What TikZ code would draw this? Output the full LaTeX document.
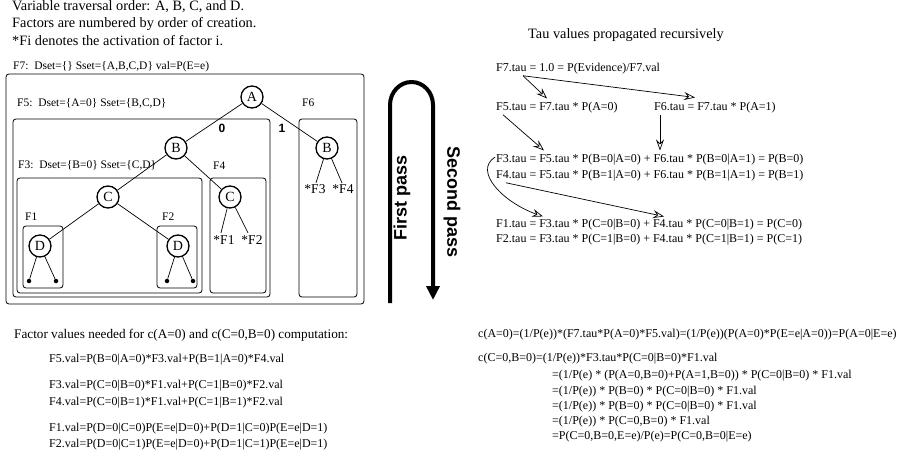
\documentclass[tikz,border=0pt]{standalone}
\usepackage{fontspec}
\setmainfont{Liberation Serif}
\setsansfont{Liberation Sans}
\usetikzlibrary{arrows.meta, math}

\tikzset{
  var/.style={circle,draw,line width=1.3pt,minimum size=22pt,inner sep=0pt,font=\fontsize{14}{14}\selectfont},
  fbox/.style={draw,line width=0.8pt,rounded corners=3pt},
  edge/.style={line width=0.7pt},
  leafdot/.style={circle,fill,inner sep=0pt,minimum size=4.5pt},
  flabel/.style={anchor=base west,inner sep=0pt,font=\fontsize{11.5}{12}\selectfont},
  leaf/.style={anchor=base,inner sep=0pt,font=\fontsize{13.5}{14}\selectfont},
  bit/.style={inner sep=0pt,font=\sffamily\bfseries\fontsize{12}{12}\selectfont},
  eqn/.style={anchor=base west,inner sep=0pt,font=\fontsize{12}{12}\selectfont},
  head/.style={anchor=base west,inner sep=0pt,font=\fontsize{14.3}{15}\selectfont},
  taupath/.style={line width=0.7pt,-{Stealth[open,length=11pt,width=8pt,inset=4pt]}},
  pass/.style={inner sep=0pt,font=\sffamily\bfseries\fontsize{18}{18}\selectfont},
}

\begin{document}
\begin{tikzpicture}[x=1pt,y=-1pt]
\tikzmath{
\xl=390;
\xr=433;
\ytop=105;
}
\useasboundingbox (0,0) rectangle (913,457);

%notes
\node[head] (note1) at (12,10.5) {Variable traversal order: A, B, C, and D.};
\node[head] (note2) at (12,28) {Factors are numbered by order of creation.};
\node[head] (note3) at (12,46) {*Fi denotes the activation of factor i.};

%factor boxes
\node[flabel] (lF7) at (13,70) {F7:\, Dset=\{\} Sset=\{A,B,C,D\} val=P(E=e)};
\draw[fbox] (6,74) rectangle (364,304);
\node[flabel] (lF5) at (17,107) {F5:\, Dset=\{A=0\} Sset=\{B,C,D\}};
\draw[fbox] (13,119) rectangle (270,297);
\node[flabel] (lF6) at (302,107) {F6};
\draw[fbox] (299,119) rectangle (357,297);
\node[flabel] (lF3) at (18,169) {F3:\, Dset=\{B=0\} Sset=\{C,D\}};
\draw[fbox] (17,178) rectangle (202,293);
\node[flabel] (lF4) at (213,170) {F4};
\draw[fbox] (210,178) rectangle (266,293);
\node[flabel] (lF1) at (25,221) {F1};
\draw[fbox] (23,226) rectangle (63,288);
\node[flabel] (lF2) at (162,221) {F2};
\draw[fbox] (157,226) rectangle (197,288);

%variables
\node[var] (A) at (252,97) {A};
\node[var] (B0) at (176,148) {B};
\node[var] (B1) at (327,148) {B};
\node[var] (C0) at (108,197) {C};
\node[var] (C1) at (230,197) {C};
\node[var] (D0) at (40,246) {D};
\node[var] (D1) at (178,246) {D};
\foreach \x/\n in {29/a,56/b,167/c,193/d}{
  \node[leafdot] (leaf\n) at (\x,281) {};
}
\node[leaf] (sF1) at (224,244) {*F1};
\node[leaf] (sF2) at (252,244) {*F2};
\node[leaf] (sF3) at (315,194) {*F3};
\node[leaf] (sF4) at (343,194) {*F4};

%edges
\draw[edge] (A) -- (B0);
\draw[edge] (A) -- (B1);
\node[bit] (bit0) at (222,128) {0};
\node[bit] (bit1) at (282,128) {1};
\draw[edge] (B0) -- (C0);
\draw[edge] (B0) -- (C1);
\draw[edge] (C0) -- (D0);
\draw[edge] (C0) -- (D1);
\draw[edge] (D0) -- (leafa);
\draw[edge] (D0) -- (leafb);
\draw[edge] (D1) -- (leafc);
\draw[edge] (D1) -- (leafd);
\draw[edge] (C1) -- ([xshift=-3pt,yshift=2pt]sF1.north);
\draw[edge] (C1) -- ([xshift=-4pt,yshift=2pt]sF2.north);
\draw[edge] (B1) -- ([xshift=1pt,yshift=2pt]sF3.north);
\draw[edge] (B1) -- ([xshift=-1pt,yshift=2pt]sF4.north);

%passes
\draw[line width=4pt,-{Triangle[length=14pt,width=13pt]}] (\xl,303) -- (\xl,\ytop)
  arc[start angle=180,end angle=360,x radius=21.5,y radius=23] -- (\xr,300);
\node[pass,rotate=90] (first) at (402,198) {First pass};
\node[pass,rotate=-90] (second) at (452,202) {Second pass};

%tau values
\node[head] (tauhead) at (528,39) {Tau values propagated recursively};
\node[eqn] (t7) at (496,72) {F7.tau = 1.0 = P(Evidence)/F7.val};
\node[eqn] (t5) at (496,111) {F5.tau = F7.tau * P(A=0)};
\node[eqn] (t6) at (654,111) {F6.tau = F7.tau * P(A=1)};
\node[eqn] (t3) at (496,163) {F3.tau = F5.tau * P(B=0|A=0) + F6.tau * P(B=0|A=1) = P(B=0)};
\node[eqn] (t4) at (496,179) {F4.tau = F5.tau * P(B=1|A=0) + F6.tau * P(B=1|A=1) = P(B=1)};
\node[eqn] (t1) at (496,228) {F1.tau = F3.tau * P(C=0|B=0) + F4.tau * P(C=0|B=1) = P(C=0)};
\node[eqn] (t2) at (496,243) {F2.tau = F3.tau * P(C=1|B=0) + F4.tau * P(C=1|B=1) = P(C=1)};
\draw[taupath] ([xshift=27pt,yshift=-1pt]t7.south west) -- ([xshift=51pt,yshift=4pt]t5.north west);
\draw[taupath] ([xshift=27pt,yshift=-1pt]t7.south west) -- ([xshift=41pt,yshift=5pt]t6.north west);
\draw[taupath] ([xshift=7pt,yshift=-1pt]t5.south west) -- ([xshift=48pt,yshift=4pt]t3.north west);
\draw[taupath] ([xshift=6pt,yshift=-1pt]t6.south west) -- ([xshift=6pt,yshift=4pt]t3.north west -| t6.west);
\draw[taupath] ([xshift=-1pt,yshift=3pt]t3.west) .. controls +(-22,14) and +(-40,-14) .. ([xshift=47pt,yshift=3pt]t1.north west);
\draw[taupath] ([xshift=10pt,yshift=-1pt]t4.south west) -- ([xshift=168pt,yshift=3pt]t1.north west);

%factor values
\node[head,font=\fontsize{13.2}{14}\selectfont] (needhead) at (14,338) {Factor values needed for c(A=0) and c(C=0,B=0) computation:};
\node[eqn] (v5) at (49,362) {F5.val=P(B=0|A=0)*F3.val+P(B=1|A=0)*F4.val};
\node[eqn] (v3) at (49,388) {F3.val=P(C=0|B=0)*F1.val+P(C=1|B=0)*F2.val};
\node[eqn] (v4) at (49,405) {F4.val=P(C=0|B=1)*F1.val+P(C=1|B=1)*F2.val};
\node[eqn] (v1) at (49,431) {F1.val=P(D=0|C=0)P(E=e|D=0)+P(D=1|C=0)P(E=e|D=1)};
\node[eqn] (v2) at (49,447) {F2.val=P(D=0|C=1)P(E=e|D=0)+P(D=1|C=1)P(E=e|D=1)};

%conditionals
\node[eqn] (cA) at (478,337) {c(A=0)=(1/P(e))*(F7.tau*P(A=0)*F5.val)=(1/P(e))(P(A=0)*P(E=e|A=0))=P(A=0|E=e)};
\node[eqn] (cC) at (478,361) {c(C=0,B=0)=(1/P(e))*F3.tau*P(C=0|B=0)*F1.val};
\node[eqn] (cC1) at (552,378) {=(1/P(e) * (P(A=0,B=0)+P(A=1,B=0)) * P(C=0|B=0) * F1.val};
\node[eqn] (cC2) at (552,394) {=(1/P(e)) * P(B=0) * P(C=0|B=0) * F1.val};
\node[eqn] (cC3) at (552,409) {=(1/P(e)) * P(B=0) * P(C=0|B=0) * F1.val};
\node[eqn] (cC4) at (552,424) {=(1/P(e)) * P(C=0,B=0) * F1.val};
\node[eqn] (cC5) at (552,439) {=P(C=0,B=0,E=e)/P(e)=P(C=0,B=0|E=e)};
\end{tikzpicture}
\end{document}
